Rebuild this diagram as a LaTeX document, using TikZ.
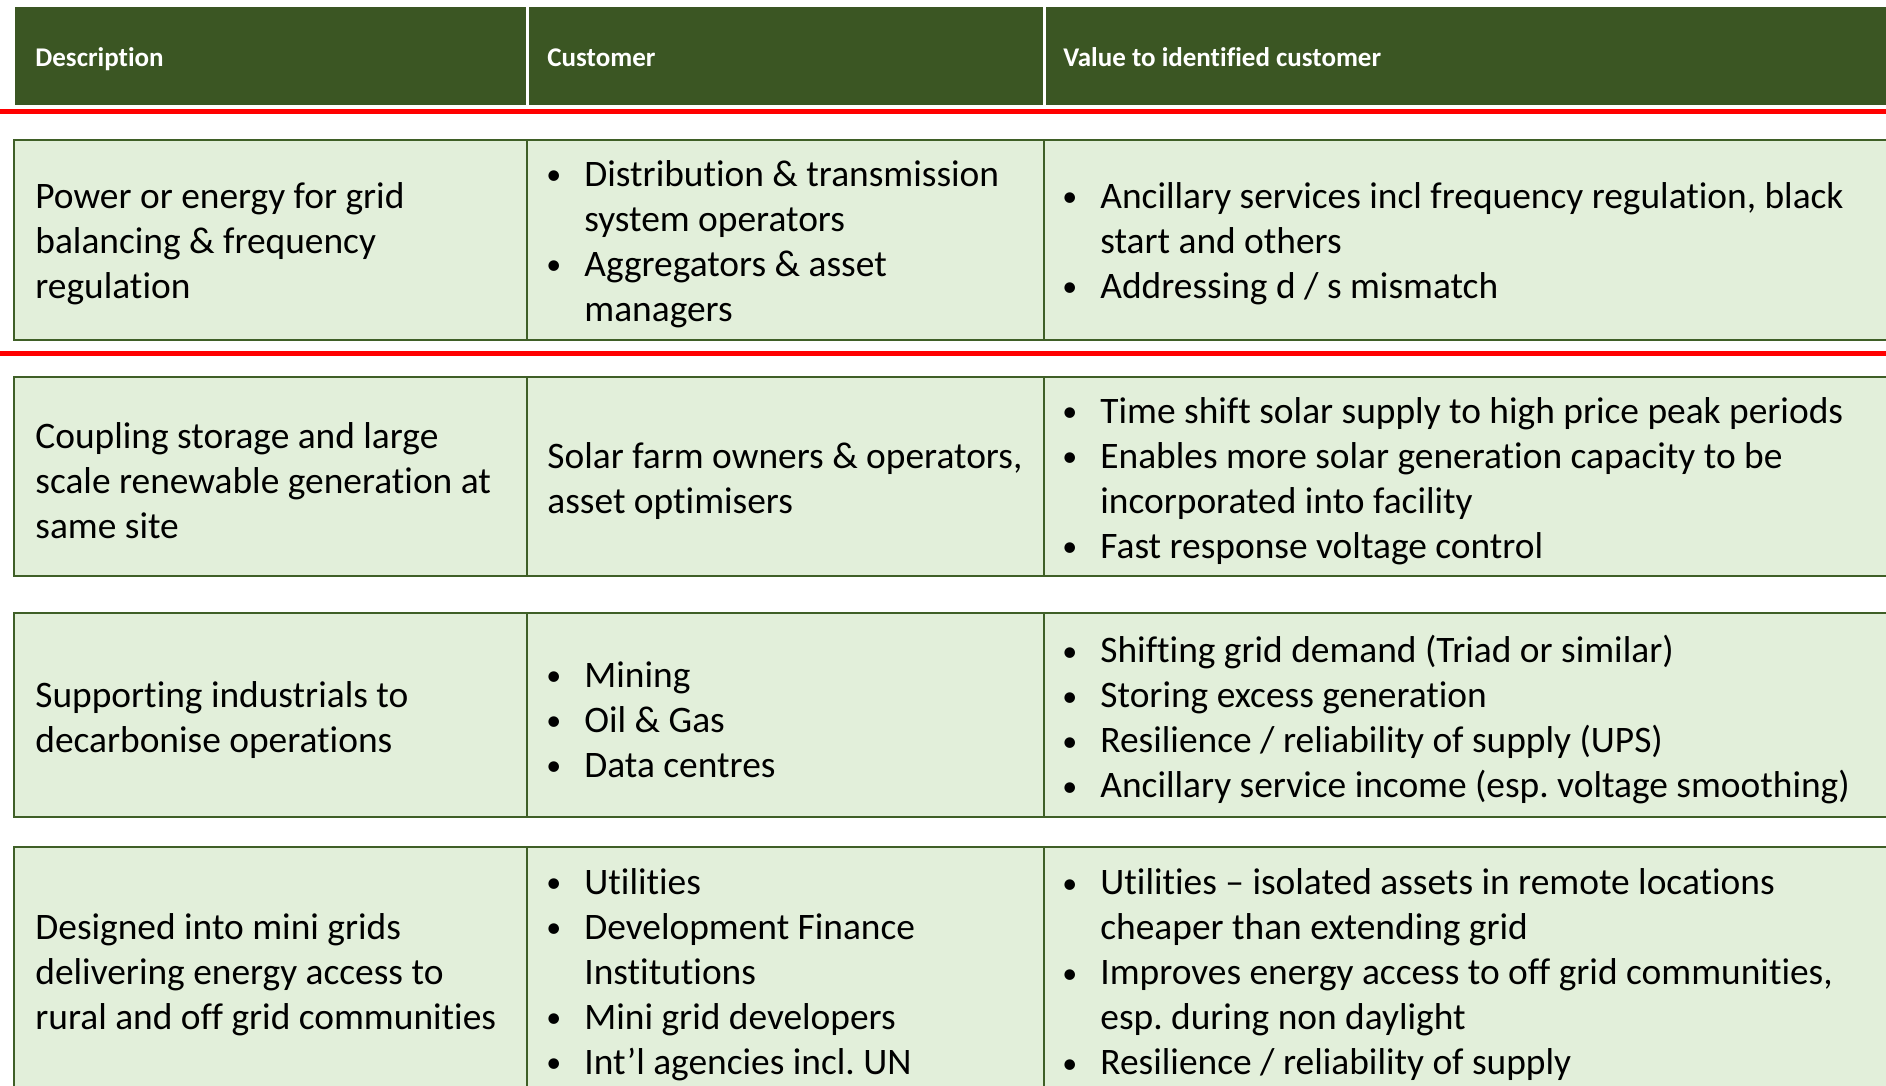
\documentclass[tikz,border=0pt]{standalone}
\usepackage{fontspec}
\setmainfont[Ligatures=NoCommon]{Carlito}
\definecolor{hdr}{HTML}{3B5623}
\definecolor{brd}{HTML}{3F5F27}
\definecolor{cellbg}{HTML}{E2EFDA}
\definecolor{redline}{HTML}{FF0000}
\newcommand{\bitem}[1]{\makebox[20pt][l]{\hspace{1pt}\raisebox{0.9pt}{\scalebox{0.8}{\textbullet}}}#1}
\newcommand{\cont}{\hspace*{20pt}}
\tikzset{
  hdrcell/.style={fill=hdr},
  bodycell/.style={draw=brd, fill=cellbg, line width=1.25pt},
  hdrtext/.style={text=white, font=\bfseries\fontsize{13.5}{16}\selectfont, anchor=base west, inner sep=0pt},
  bodytext/.style={text=black, font=\frenchspacing\fontsize{18.7}{22.5}\selectfont, anchor=west, inner sep=0pt, align=left},
  sepline/.style={draw=redline, line width=2.5pt}
}
\begin{document}
\begin{tikzpicture}[x=0.5pt,y=-0.5pt]
\useasboundingbox (0,0) rectangle (1886,1086);
\fill[white] (0,0) rectangle (1886,1086);
\begin{scope}
\clip (0,0) rectangle (1886,1086);
% header
\fill[hdrcell] (15,7) rectangle (526,105);
\fill[hdrcell] (529,7) rectangle (1043,105);
\fill[hdrcell] (1046,7) rectangle (1900,105);
\node[hdrtext] (h1) at (35,67) {Description};
\node[hdrtext] (h2) at (547,67) {Customer};
\node[hdrtext] (h3) at (1063,67) {Value to identified customer};
% red separators
\draw[sepline] (0,111.5) -- (1886,111.5);
\draw[sepline] (0,353) -- (1886,353);
% rows
\foreach \t/\b in {140/340, 377/576, 613/817, 847/1110}{
  \draw[bodycell] (14,\t) rectangle (1900,\b);
  \draw[draw=brd, line width=1.25pt] (527,\t) -- (527,\b);
  \draw[draw=brd, line width=1.25pt] (1044,\t) -- (1044,\b);
}
% row 1
\node[bodytext] (r1a) at (35,244) {Power or energy for grid\\balancing \& frequency\\regulation};
\node[bodytext] (r1b) at (544,244) {\bitem{Distribution \& transmission}\\\cont system operators\\\bitem{Aggregators \& asset}\\\cont managers};
\node[bodytext] (r1c) at (1060,244) {\bitem{Ancillary services incl frequency regulation, black}\\\cont start and others\\\bitem{Addressing d / s mismatch}};
% row 2
\node[bodytext] (r2a) at (35,481) {Coupling storage and large\\scale renewable generation at\\same site};
\node[bodytext] (r2b) at (547,481) {Solar farm owners \& operators,\\asset optimisers};
\node[bodytext] (r2c) at (1060,481) {\bitem{Time shift solar supply to high price peak periods}\\\bitem{Enables more solar generation capacity to be}\\\cont incorporated into facility\\\bitem{Fast response voltage control}};
% row 3
\node[bodytext] (r3a) at (35,720) {Supporting industrials to\\decarbonise operations};
\node[bodytext] (r3b) at (544,720) {\bitem{Mining}\\\bitem{Oil \& Gas}\\\bitem{Data centres}};
\node[bodytext] (r3c) at (1060,720) {\bitem{Shifting grid demand (Triad or similar)}\\\bitem{Storing excess generation}\\\bitem{Resilience / reliability of supply (UPS)}\\\bitem{Ancillary service income (esp. voltage smoothing)}};
% row 4
\node[bodytext] (r4a) at (35,975) {Designed into mini grids\\delivering energy access to\\rural and off grid communities};
\node[bodytext] (r4b) at (544,975) {\bitem{Utilities}\\\bitem{Development Finance}\\\cont Institutions\\\bitem{Mini grid developers}\\\bitem{Int’l agencies incl. UN}};
\node[bodytext] (r4c) at (1060,975) {\bitem{Utilities – isolated assets in remote locations}\\\cont cheaper than extending grid\\\bitem{Improves energy access to off grid communities,}\\\cont esp. during non daylight\\\bitem{Resilience / reliability of supply}};
\end{scope}
\end{tikzpicture}
\end{document}
